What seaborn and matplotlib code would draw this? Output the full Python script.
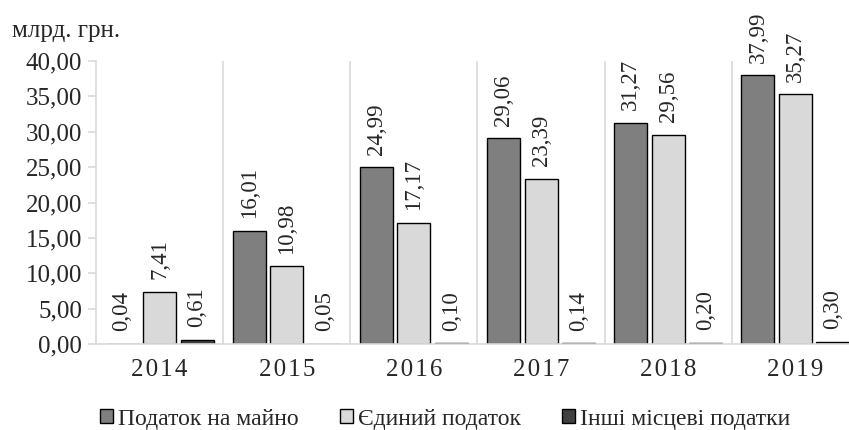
import matplotlib
matplotlib.use("Agg")
import matplotlib.pyplot as plt
import pandas as pd
import seaborn as sns

years = ["2014", "2015", "2016", "2017", "2018", "2019"]
series = ["Податок на майно", "Єдиний податок", "Інші місцеві податки"]
property_tax = [0.04, 16.01, 24.99, 29.06, 31.27, 37.99]
single_tax = [7.41, 10.98, 17.17, 23.39, 29.56, 35.27]
other_tax = [0.61, 0.05, 0.10, 0.14, 0.20, 0.30]
colors = ["#7f7f7f", "#d9d9d9", "#404040"]

rows = []
for name, vals in zip(series, [property_tax, single_tax, other_tax]):
    for y, v in zip(years, vals):
        rows.append({"Рік": y, "Податок": name, "Сума": v})
df = pd.DataFrame(rows)

sns.set_style("white")
plt.rcParams["font.family"] = "Liberation Serif"

fig = plt.figure(figsize=(8.49, 4.30), dpi=100)
ax = fig.add_axes([96 / 849, 1 - 344 / 430, (859 - 96) / 849, (344 - 61) / 430])

sns.barplot(data=df, x="Рік", y="Сума", hue="Податок", hue_order=series,
            palette=colors, width=0.885, gap=0.12, edgecolor="black",
            linewidth=1.0, ax=ax, legend=False)

ax.set_xlim(-0.5, 5.5)
ax.set_ylim(0, 40)
ax.set_yticks(range(0, 41, 5))
ax.set_yticklabels([f"{v:.2f}".replace(".", ",") for v in range(0, 41, 5)], fontsize=18)
ax.set_xticks(range(len(years)))
ax.set_xticklabels(["\u200a".join(y) for y in years], fontsize=18)
ax.set_xlabel("")
ax.set_ylabel("")

# light separators between the year groups
for i in range(len(years) - 1):
    ax.axvline(i + 0.5, color="#d9d9d9", lw=1.2, zorder=0)

for s in ["top", "right"]:
    ax.spines[s].set_visible(False)
ax.spines["left"].set_color("#d9d9d9")
ax.spines["bottom"].set_color("#d9d9d9")
ax.spines["left"].set_linewidth(1.2)
ax.spines["bottom"].set_linewidth(1.2)
ax.tick_params(axis="y", length=6, color="#d9d9d9", width=1.2, pad=4, direction="out", left=True)
ax.tick_params(axis="x", length=0, pad=11)

for cont in ax.containers:
    labels = [f"{b.get_height():.2f}".replace(".", ",") for b in cont]
    ax.bar_label(cont, labels=labels, rotation=90, fontsize=16.5, padding=9)

fig.text(12 / 849, 1 - 31 / 430, "млрд. грн.", fontsize=18, va="center", ha="left")

handles = [plt.Rectangle((0, 0), 1, 1, facecolor=c, edgecolor="black", lw=1.0) for c in colors]
fig.legend(handles, series, loc="center", bbox_to_anchor=(445 / 849, 1 - 419 / 430),
           ncol=3, frameon=False, fontsize=17, handlelength=0.55, handleheight=0.55,
           handletextpad=0.2, columnspacing=1.75, borderpad=0, borderaxespad=0)

fig.savefig("out.png", dpi=100)
